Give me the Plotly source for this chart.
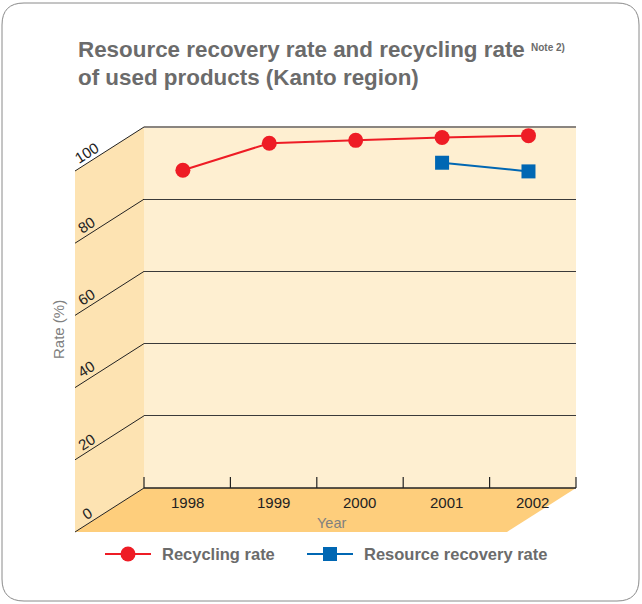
import plotly.graph_objects as go

# Data
years = ["1998", "1999", "2000", "2001", "2002"]
recycling_rate = [88.0, 95.5, 96.3, 97.1, 97.6]
recovery_rate = [None, None, None, 90.1, 87.7]
y_ticks = [0, 20, 40, 60, 80, 100]
series_names = ["Recycling rate", "Resource recovery rate"]

# Canvas and pseudo-3D box geometry (pixels)
W, H = 642, 604
WALL_L, WALL_R = 144, 576      # back wall left/right
WALL_B, WALL_T = 488, 127      # back wall bottom (0) / top (100)
DX, DY = 69, 44                # depth offset of the front edge
Y_MAX = 100.0
X_SHIFT = 0.05                 # points sit slightly left of the slot centres


def px(x):
    return x / W


def py(y):
    return 1 - y / H


def val_to_pix(v):
    return WALL_B - (WALL_B - WALL_T) * v / Y_MAX


WALL_BACK = "#FEEFD1"
WALL_SIDE = "#FDE3B2"
FLOOR = "#FECE7C"
RED = "#EE1C25"
BLUE = "#0067B3"
TEXT_GRAY = "#6b6b6b"
FONT = "Liberation Sans, Arial, sans-serif"

fig = go.Figure()
fig.add_trace(go.Scatter(
    x=years, y=recycling_rate, name=series_names[0], mode="lines+markers",
    line=dict(color=RED, width=2), marker=dict(color=RED, size=15, symbol="circle"),
    showlegend=False,
))
fig.add_trace(go.Scatter(
    x=years, y=recovery_rate, name=series_names[1], mode="lines+markers",
    line=dict(color=BLUE, width=2), marker=dict(color=BLUE, size=14, symbol="square"),
    showlegend=False,
))

shapes = []
# left side wall
shapes.append(dict(
    type="path", xref="paper", yref="paper", layer="below", line=dict(width=0),
    fillcolor=WALL_SIDE,
    path=(f"M {px(WALL_L - DX)} {py(WALL_T + DY)} L {px(WALL_L)} {py(WALL_T)} "
          f"L {px(WALL_L)} {py(WALL_B)} L {px(WALL_L - DX)} {py(WALL_B + DY)} Z"),
))
# floor
shapes.append(dict(
    type="path", xref="paper", yref="paper", layer="below", line=dict(width=0),
    fillcolor=FLOOR,
    path=(f"M {px(WALL_L - DX)} {py(WALL_B + DY)} L {px(WALL_R - DX)} {py(WALL_B + DY)} "
          f"L {px(WALL_R)} {py(WALL_B)} L {px(WALL_L)} {py(WALL_B)} Z"),
))
# diagonal grid lines on the side wall
for v in y_ticks:
    yp = val_to_pix(v)
    shapes.append(dict(
        type="line", xref="paper", yref="paper", layer="below",
        x0=px(WALL_L - DX), y0=py(yp + DY), x1=px(WALL_L), y1=py(yp),
        line=dict(color="#222222", width=1),
    ))
# top edge of the back wall
shapes.append(dict(
    type="line", xref="paper", yref="paper", layer="below",
    x0=px(WALL_L), y0=py(WALL_T), x1=px(WALL_R), y1=py(WALL_T),
    line=dict(color="#8a8580", width=2),
))
# floor back edge and category ticks
shapes.append(dict(
    type="line", xref="paper", yref="paper", layer="below",
    x0=px(WALL_L), y0=py(WALL_B), x1=px(WALL_R), y1=py(WALL_B),
    line=dict(color="#222222", width=1.5),
))
step = (WALL_R - WALL_L) / len(years)
for i in range(len(years) + 1):
    xt = WALL_L + i * step
    shapes.append(dict(
        type="line", xref="paper", yref="paper", layer="below",
        x0=px(xt), y0=py(WALL_B), x1=px(xt), y1=py(WALL_B - 11),
        line=dict(color="#222222", width=1.2),
    ))
# card border
r = 22
x0, y0, x1, y1 = 2, 3, 639, 601
shapes.append(dict(
    type="path", xref="paper", yref="paper", layer="below",
    line=dict(color="#8a8a8a", width=1), fillcolor="rgba(0,0,0,0)",
    path=(f"M {px(x0 + r)} {py(y0)} L {px(x1 - r)} {py(y0)} "
          f"Q {px(x1)} {py(y0)} {px(x1)} {py(y0 + r)} L {px(x1)} {py(y1 - r)} "
          f"Q {px(x1)} {py(y1)} {px(x1 - r)} {py(y1)} L {px(x0 + r)} {py(y1)} "
          f"Q {px(x0)} {py(y1)} {px(x0)} {py(y1 - r)} L {px(x0)} {py(y0 + r)} "
          f"Q {px(x0)} {py(y0)} {px(x0 + r)} {py(y0)} Z"),
))

# Legend keys: line sample plus marker glyph
legend_keys = [
    dict(x0=105, x1=151, text_x=160, color=RED, symbol="circle", half=7.5),
    dict(x0=307, x1=353, text_x=362, color=BLUE, symbol="square", half=7),
]
LEGEND_Y = 554
for key in legend_keys:
    xm = (key["x0"] + key["x1"]) / 2
    shapes.append(dict(
        type="line", xref="paper", yref="paper",
        x0=px(key["x0"]), y0=py(LEGEND_Y), x1=px(key["x1"]), y1=py(LEGEND_Y),
        line=dict(color=key["color"], width=2),
    ))
    h = key["half"]
    shapes.append(dict(
        type="circle" if key["symbol"] == "circle" else "rect",
        xref="paper", yref="paper",
        x0=px(xm - h), x1=px(xm + h), y0=py(LEGEND_Y + h), y1=py(LEGEND_Y - h),
        line=dict(width=0), fillcolor=key["color"],
    ))

annotations = []
# y tick labels along the side wall
for v in y_ticks:
    yp = val_to_pix(v)
    xl = WALL_L - DX + 12
    yl = yp + DY - 12 * DY / DX - 11
    annotations.append(dict(
        text=str(v), xref="paper", yref="paper", x=px(xl), y=py(yl),
        showarrow=False, textangle=-32, font=dict(size=15, color="#222222"),
        xanchor="center", yanchor="middle",
    ))
# year labels on the floor, centred in each slot
for i, yr in enumerate(years):
    xc = WALL_L + (i + 0.5) * step
    annotations.append(dict(
        text=yr, xref="paper", yref="paper", x=px(xc), y=py(502),
        showarrow=False, font=dict(size=15, color="#222222"),
        xanchor="center", yanchor="middle",
    ))
# legend labels
for key, name in zip(legend_keys, series_names):
    annotations.append(dict(
        text=f"<b>{name}</b>", xref="paper", yref="paper",
        x=px(key["text_x"]), y=py(LEGEND_Y), showarrow=False,
        font=dict(size=16.5, color=TEXT_GRAY), xanchor="left", yanchor="middle",
    ))
annotations += [
    dict(text="Year", xref="paper", yref="paper", x=px(332), y=py(523),
         showarrow=False, font=dict(size=14.5, color="#808080"),
         xanchor="center", yanchor="middle"),
    dict(text="Rate (%)", xref="paper", yref="paper", x=px(58), y=py(330),
         showarrow=False, textangle=-90, font=dict(size=15, color="#808080"),
         xanchor="center", yanchor="middle"),
    dict(text="<b>Resource recovery rate and recycling rate</b>",
         xref="paper", yref="paper", x=px(76), y=py(50), align="left",
         showarrow=False, font=dict(size=22.4, color=TEXT_GRAY),
         xanchor="left", yanchor="middle"),
    dict(text="<b>Note 2)</b>",
         xref="paper", yref="paper", x=px(529), y=py(47), align="left",
         showarrow=False, font=dict(size=10, color=TEXT_GRAY),
         xanchor="left", yanchor="middle"),
    dict(text="<b>of used products (Kanto region)</b>",
         xref="paper", yref="paper", x=px(76), y=py(77), align="left",
         showarrow=False, font=dict(size=22.4, color=TEXT_GRAY),
         xanchor="left", yanchor="middle"),
]

fig.update_layout(
    width=W, height=H,
    margin=dict(l=0, r=0, t=0, b=0),
    paper_bgcolor="white",
    plot_bgcolor=WALL_BACK,
    font=dict(family=FONT),
    shapes=shapes,
    annotations=annotations,
    showlegend=False,
    xaxis=dict(
        domain=[px(WALL_L), px(WALL_R)], type="category",
        range=[-0.5 + X_SHIFT, len(years) - 0.5 + X_SHIFT], showticklabels=False,
        showgrid=False, zeroline=False, showline=False, fixedrange=True,
    ),
    yaxis=dict(
        domain=[py(WALL_B), py(WALL_T)], range=[0, Y_MAX],
        tickvals=y_ticks, showticklabels=False, showgrid=True,
        gridcolor="#3a3a3a", gridwidth=1.3, zeroline=False, showline=False,
        fixedrange=True,
    ),
)

fig.write_html("out.html")
